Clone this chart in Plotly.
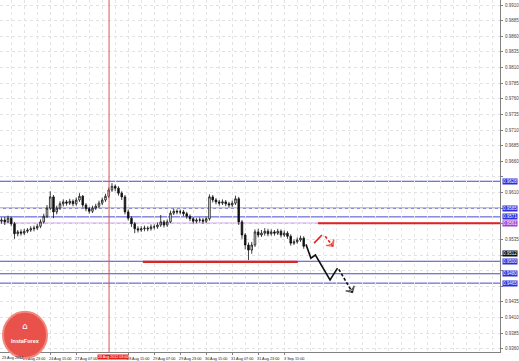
import plotly.graph_objects as go

# ---------------- data ----------------
closes = [0.9566, 0.9563, 0.9569, 0.9560, 0.9544, 0.9547, 0.9545, 0.9548, 0.9550, 0.9552,
          0.9553, 0.9556, 0.9563, 0.9572, 0.9585, 0.9603, 0.9579, 0.9585, 0.9592, 0.9595,
          0.9593, 0.9596, 0.9592, 0.9598, 0.9604, 0.9590, 0.9584, 0.9580, 0.9585, 0.9588,
          0.9593, 0.9598, 0.9604, 0.9614, 0.9620, 0.9617, 0.9609, 0.9603, 0.9579, 0.9569,
          0.9560, 0.9552, 0.9550, 0.9552, 0.9553, 0.9552, 0.9555, 0.9555, 0.9558, 0.9563,
          0.9558, 0.9563, 0.9577, 0.9580, 0.9579, 0.9579, 0.9576, 0.9572, 0.9568, 0.9564,
          0.9566, 0.9566, 0.9564, 0.9568, 0.9603, 0.9598, 0.9595, 0.9593, 0.9595, 0.9592,
          0.9590, 0.9593, 0.9600, 0.9563, 0.9542, 0.9526, 0.9518, 0.9526, 0.9547, 0.9542,
          0.9545, 0.9548, 0.9544, 0.9547, 0.9545, 0.9548, 0.9542, 0.9545, 0.9540, 0.9529,
          0.9531, 0.9534, 0.9537, 0.9524]
first_open = 0.9564
highs = [0.9570, 0.9571, 0.9573, 0.9572, 0.9563, 0.9550, 0.9551, 0.9552, 0.9553, 0.9556,
         0.9557, 0.9560, 0.9567, 0.9576, 0.9590, 0.9612, 0.9606, 0.9589, 0.9596, 0.9599,
         0.9598, 0.9600, 0.9599, 0.9602, 0.9609, 0.9606, 0.9593, 0.9587, 0.9589, 0.9592,
         0.9597, 0.9602, 0.9608, 0.9618, 0.9625, 0.9623, 0.9620, 0.9612, 0.9606, 0.9583,
         0.9572, 0.9563, 0.9556, 0.9556, 0.9557, 0.9556, 0.9559, 0.9559, 0.9562, 0.9574,
         0.9566, 0.9567, 0.9581, 0.9584, 0.9583, 0.9583, 0.9582, 0.9579, 0.9575, 0.9571,
         0.9569, 0.9570, 0.9569, 0.9572, 0.9607, 0.9606, 0.9601, 0.9598, 0.9599, 0.9598,
         0.9595, 0.9597, 0.9605, 0.9603, 0.9566, 0.9545, 0.9530, 0.9531, 0.9551, 0.9552,
         0.9550, 0.9553, 0.9552, 0.9551, 0.9550, 0.9552, 0.9551, 0.9549, 0.9548, 0.9543,
         0.9535, 0.9538, 0.9541, 0.9540]
lows = [0.9560, 0.9558, 0.9561, 0.9556, 0.9536, 0.9540, 0.9541, 0.9542, 0.9545, 0.9547,
        0.9548, 0.9550, 0.9553, 0.9560, 0.9569, 0.9582, 0.9569, 0.9575, 0.9582, 0.9588,
        0.9589, 0.9590, 0.9588, 0.9589, 0.9595, 0.9586, 0.9580, 0.9576, 0.9577, 0.9582,
        0.9585, 0.9590, 0.9595, 0.9601, 0.9611, 0.9612, 0.9605, 0.9598, 0.9575, 0.9565,
        0.9555, 0.9545, 0.9546, 0.9547, 0.9548, 0.9548, 0.9549, 0.9551, 0.9552, 0.9555,
        0.9554, 0.9555, 0.9561, 0.9574, 0.9575, 0.9575, 0.9572, 0.9568, 0.9564, 0.9560,
        0.9561, 0.9562, 0.9560, 0.9561, 0.9565, 0.9594, 0.9591, 0.9589, 0.9590, 0.9588,
        0.9586, 0.9587, 0.9590, 0.9558, 0.9536, 0.9519, 0.9502, 0.9512, 0.9523, 0.9538,
        0.9539, 0.9541, 0.9540, 0.9541, 0.9541, 0.9542, 0.9538, 0.9539, 0.9536, 0.9525,
        0.9526, 0.9528, 0.9531, 0.9520]
opens = [first_open] + closes[:-1]
bar_index = list(range(len(closes)))

# x-axis time labels (bar index of each label, 2-hour bars)
first_date_label = "23 Aug 2012"
time_tick_idx = [7, 15, 23, 39, 47, 55, 63, 71, 79, 87]
time_tick_text = ["23 Aug 23:00", "24 Aug 15:00", "27 Aug 07:00",
                  "28 Aug 15:00", "29 Aug 07:00", "29 Aug 23:00", "30 Aug 15:00",
                  "31 Aug 07:00", "31 Aug 23:00", "3 Sep 15:00"]

# price scale labels
price_ticks = [0.9910, 0.9885, 0.9860, 0.9835, 0.9810, 0.9785, 0.9760, 0.9735, 0.9710,
               0.9685, 0.9660, 0.9635, 0.9610, 0.9585, 0.9560, 0.9535, 0.9510, 0.9485,
               0.9460, 0.9435, 0.9410, 0.9385, 0.9360]

# horizontal levels
blue_levels = [0.9628, 0.9585, 0.9571, 0.9500, 0.9480, 0.9465]
purple_level = 0.9561
current_price = 0.9512
red_upper = {"level": 0.9561, "start": 97.4}
red_lower = {"level": 0.9499, "start": 43.5, "end": 91.2}
crosshair_idx = 33.1
crosshair_text = "28 Aug 2012 03:00"

# forecast paths
black_solid_x = [93.7, 95.2, 96.6, 101.1, 103.4]
black_solid_y = [0.9527, 0.9505, 0.9510, 0.9470, 0.9489]
black_dash_x = [103.8, 108.0]
black_dash_y = [0.9487, 0.9450]
red_solid_x = [96.2, 98.6]
red_solid_y = [0.9529, 0.9542]
red_dash_x = [99.6, 102.0]
red_dash_y = [0.9540, 0.9524]

X_RANGE = [-0.46, 153.4]
Y_RANGE = [0.93548, 0.9918]

BLUE = "#4848d0"
RED = "#e2231a"
XFONT = dict(size=3.8, color="#222222", family="Liberation Sans Narrow, Liberation Sans")

# hide grey scale labels hidden behind the coloured level boxes
box_levels = blue_levels + [purple_level, current_price]
tick_text = ["" if min(abs(v - b) for b in box_levels) < 0.0009 else f"{v:.4f}" for v in price_ticks]

fig = go.Figure()
fig.add_trace(go.Candlestick(
    x=bar_index, open=opens, high=highs, low=lows, close=closes,
    increasing=dict(line=dict(color="#111111", width=0.8), fillcolor="#ffffff"),
    decreasing=dict(line=dict(color="#111111", width=0.8), fillcolor="#111111"),
    whiskerwidth=0, showlegend=False, hoverinfo="skip"))

# forecast drawings
fig.add_trace(go.Scatter(x=black_solid_x, y=black_solid_y, mode="lines",
                         line=dict(color="#111111", width=1.6), showlegend=False, hoverinfo="skip"))
fig.add_trace(go.Scatter(x=black_dash_x, y=black_dash_y, mode="lines+markers",
                         line=dict(color="#111111", width=1.6, dash="3px,2px"),
                         marker=dict(symbol="arrow-wide-open", size=[0, 7], angleref="previous",
                                     color="#111111", line=dict(width=1.4, color="#111111")),
                         showlegend=False, hoverinfo="skip"))
fig.add_trace(go.Scatter(x=red_solid_x, y=red_solid_y, mode="lines",
                         line=dict(color=RED, width=1.6), showlegend=False, hoverinfo="skip"))
fig.add_trace(go.Scatter(x=red_dash_x, y=red_dash_y, mode="lines+markers",
                         line=dict(color=RED, width=1.6, dash="3px,2px"),
                         marker=dict(symbol="arrow-wide-open", size=[0, 7], angleref="previous",
                                     color=RED, line=dict(width=1.4, color=RED)),
                         showlegend=False, hoverinfo="skip"))

shapes = []
for lv in blue_levels:
    shapes.append(dict(type="line", xref="paper", x0=0, x1=1, yref="y", y0=lv, y1=lv,
                       line=dict(color=BLUE, width=1), layer="below"))
shapes.append(dict(type="line", xref="paper", x0=0, x1=1, yref="y", y0=purple_level, y1=purple_level,
                   line=dict(color="#c48ae0", width=1), layer="below"))
shapes.append(dict(type="line", xref="x", x0=red_upper["start"], x1=X_RANGE[1], yref="y",
                   y0=red_upper["level"], y1=red_upper["level"], line=dict(color=RED, width=2)))
shapes.append(dict(type="line", xref="x", x0=red_lower["start"], x1=red_lower["end"], yref="y",
                   y0=red_lower["level"], y1=red_lower["level"], line=dict(color=RED, width=2.2)))
shapes.append(dict(type="line", xref="x", x0=crosshair_idx, x1=crosshair_idx, yref="paper",
                   y0=0, y1=1, line=dict(color="#e05050", width=1)))
# InstaForex badge
shapes.append(dict(type="circle", xref="paper", yref="paper", x0=0.006, x1=0.094,
                   y0=-0.017, y1=0.114, fillcolor="#e8524a", line=dict(color="#f08a80", width=2),
                   layer="above"))

annotations = []
def price_box(level, bg):
    annotations.append(dict(xref="paper", x=1.0, xanchor="left", yref="y", y=level,
                            text=f"{level:.4f}", showarrow=False, bgcolor=bg, borderpad=0,
                            font=dict(size=4.5, color="#ffffff", family="Liberation Sans"),
                            xshift=2))
for lv in blue_levels:
    price_box(lv, "#2f2fd8")
price_box(purple_level, "#a040d0")
price_box(current_price, "#111111")

annotations.append(dict(xref="paper", x=0, xanchor="left", yref="paper", y=0, yanchor="top",
                        yshift=-1.5, text=first_date_label, showarrow=False, font=XFONT))
annotations.append(dict(xref="x", x=crosshair_idx, yref="paper", y=0, yanchor="top", yshift=-2,
                        xshift=4, text=crosshair_text, showarrow=False, bgcolor=RED, borderpad=0,
                        font=dict(size=3.6, color="#ffffff", family="Liberation Sans")))
annotations.append(dict(xref="paper", x=0.05, xanchor="center", yref="paper", y=0.03, yanchor="middle",
                        text="<b>InstaForex</b>", showarrow=False,
                        font=dict(size=5.5, color="#ffffff", family="Liberation Sans")))
annotations.append(dict(xref="paper", x=0.05, xanchor="center", yref="paper", y=0.075, yanchor="middle",
                        text="⌂", showarrow=False,
                        font=dict(size=9, color="#ffffff", family="DejaVu Sans")))

fig.update_layout(
    width=519, height=361,
    margin=dict(l=0, r=19, t=0, b=9, autoexpand=False),
    paper_bgcolor="#ffffff", plot_bgcolor="#ffffff",
    shapes=shapes, annotations=annotations,
    xaxis=dict(range=X_RANGE, rangeslider=dict(visible=False), showline=True, automargin=False,
               linecolor="#808080", linewidth=1, tickmode="array",
               tickvals=time_tick_idx, ticktext=time_tick_text, tickangle=0, ticks="outside", ticklen=2,
               tickcolor="#808080", ticklabelshift=10, ticklabelstandoff=0,
               tickfont=XFONT,
               showgrid=True, gridcolor="#e2e2e2", griddash="dot", gridwidth=1,
               minor=dict(dtick=4, tick0=3, showgrid=True, gridcolor="#e6e6e6", griddash="dot"),
               zeroline=False, fixedrange=True),
    yaxis=dict(range=Y_RANGE, side="right", showline=True, linecolor="#808080", linewidth=1,
               automargin=False,
               tickmode="array", tickvals=price_ticks, ticktext=tick_text,
               ticks="outside", ticklen=2, tickcolor="#808080", ticklabelstandoff=1,
               tickfont=dict(size=4.5, color="#444444", family="Liberation Sans"),
               showgrid=True, gridcolor="#e2e2e2", griddash="dot", gridwidth=1,
               zeroline=False, fixedrange=True),
)

fig.write_html("out.html")
